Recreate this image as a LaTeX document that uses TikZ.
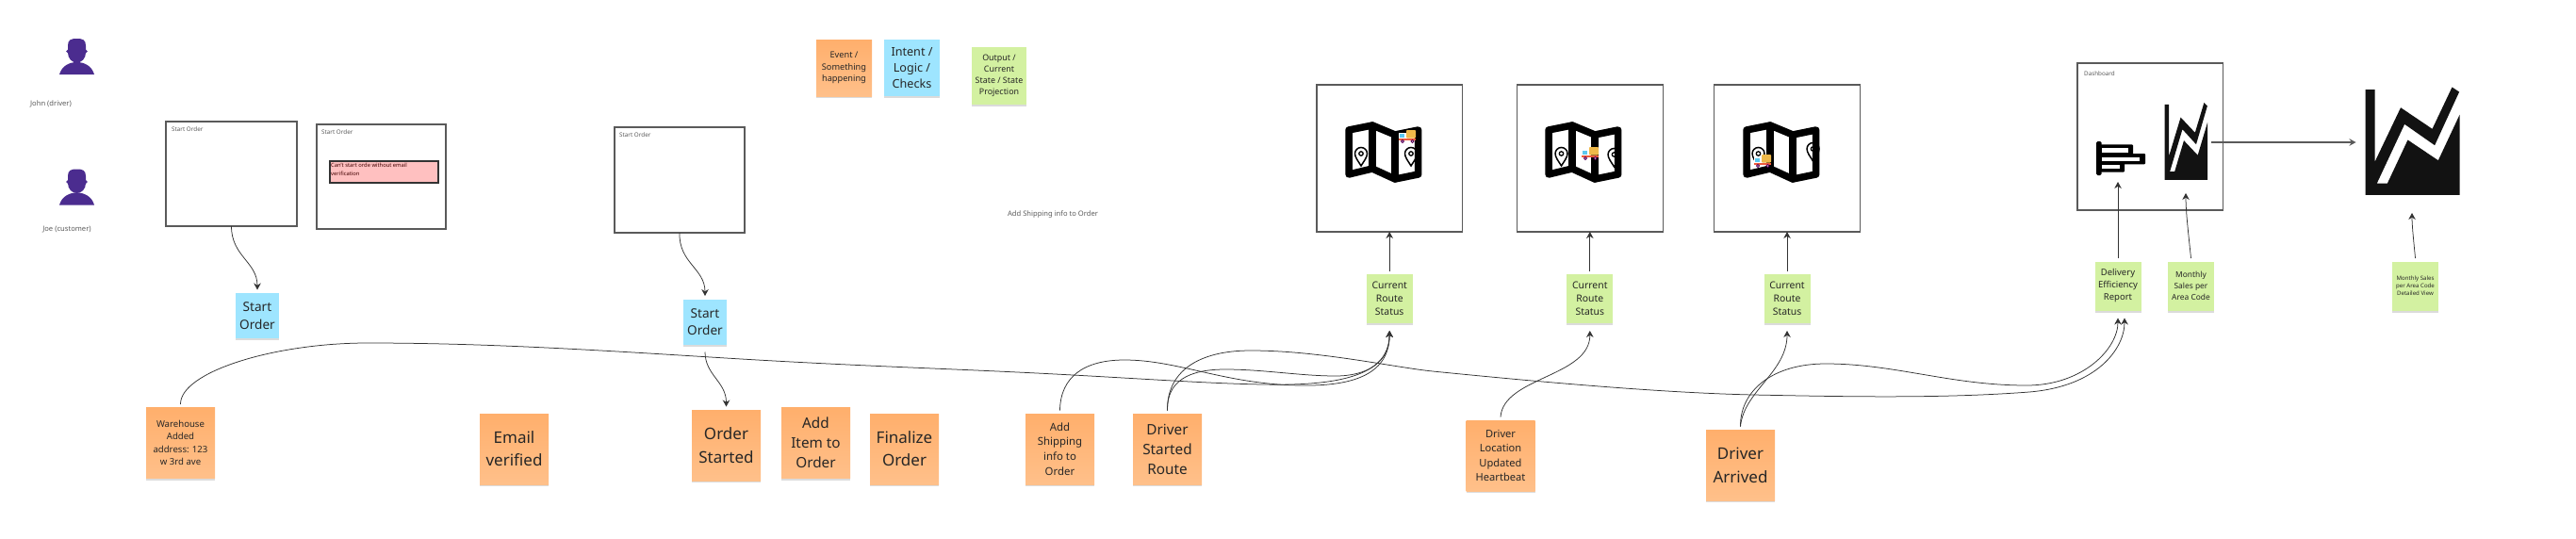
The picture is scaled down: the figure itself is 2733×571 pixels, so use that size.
\documentclass[tikz,border=0pt]{standalone}
\usepackage{fontspec}
\setmainfont{Noto Sans}
\usetikzlibrary{arrows.meta, positioning, shadows}

\definecolor{eventtop}{HTML}{FFAF6C}
\definecolor{eventbot}{HTML}{FFC08A}
\definecolor{intentfill}{HTML}{9EE5FF}
\definecolor{outputfill}{HTML}{D3F1A1}
\definecolor{alertfill}{HTML}{FFC0C0}
\definecolor{personfill}{HTML}{4B2C8F}
\definecolor{framegray}{HTML}{5A5A5A}
\definecolor{flowgray}{HTML}{333333}
\definecolor{notetext}{HTML}{262626}
\definecolor{truckyellow}{HTML}{EFB94A}
\definecolor{truckred}{HTML}{EF5A3C}
\definecolor{truckblue}{HTML}{5CC8F0}

\tikzset{
    notesize/.style n args={2}{minimum width=#1, minimum height=#2},
    textsize/.style n args={2}{font=\fontsize{#1}{#2}\selectfont},
    sticky/.style={rectangle, inner sep=0pt, outer sep=3.5pt, align=center, text=notetext,
        drop shadow={shadow xshift=0pt, shadow yshift=-2pt, opacity=.14, fill=black}},
    eventnote/.style={sticky, notesize={73pt}{75pt}, top color=eventtop, bottom color=eventbot},
    intentnote/.style={sticky, notesize={46pt}{48pt}, fill=intentfill, textsize={13.6}{19}},
    outputnote/.style={sticky, notesize={49pt}{52pt}, fill=outputfill},
    screenbox/.style={rectangle, draw=framegray, line width=1.1pt, fill=white, outer sep=0pt, inner sep=0pt},
    smalltext/.style={text=framegray, textsize={6.3}{8}, inner sep=0pt},
    flow/.style={-{Stealth[length=7pt,width=7.5pt]}, draw=flowgray, line width=.75pt},
    % ==== pictures inside the screens ====
    person/.pic={
        \fill[personfill] (-18.5,38) .. controls (-16,29) and (-8,25) .. (0,25) .. controls (8,25) and (16,29) .. (18.5,38) -- cycle;
        \fill[personfill] (-9.5,7.5) .. controls (-9.5,1) and (-6,0) .. (0,0) .. controls (6,0) and (9.5,1) .. (9.5,7.5) -- (9.5,15) .. controls (9.5,21) and (5,25.5) .. (0,25.5) .. controls (-5,25.5) and (-9.5,21) .. (-9.5,15) -- cycle;
        \fill[personfill] (-9.6,13.5) circle (1.8);
        \fill[personfill] (9.6,13.5) circle (1.8);
    },
    mappin/.pic={
        \draw[black, fill=white, line width=1.5pt] (0,11) .. controls (-3,6) and (-6.5,2) .. (-6.5,-2) arc[start angle=180, end angle=360, radius=6.5] .. controls (6.5,2) and (3,6) .. (0,11) -- cycle;
        \draw[black, line width=1.3pt] (0,-2) circle (2.2);
    },
    mapframe/.pic={
        \draw[black, line width=7.5pt, line join=round] (4,9) -- (29,4) -- (53,14) -- (77.7,9) -- (77.7,56) -- (53,61) -- (29,50) -- (4,56) -- cycle;
        \draw[black, line width=7.5pt, line cap=round] (29,4) -- (29,50);
        \draw[black, line width=7.5pt, line cap=round] (53,14) -- (53,61);
    },
    truck/.pic={
        \fill[truckyellow, rounded corners=.8pt] (-1,-7) rectangle (9,1.5);
        \fill[white] (-9,-4) rectangle (-1,2);
        \fill[truckblue] (-8.5,-3.5) rectangle (-3,.5);
        \fill[truckred] (-9,1.5) rectangle (9,4);
        \draw[violet!70!black, fill=white, line width=.8pt] (-5,5) circle (1.5);
        \draw[violet!70!black, fill=white, line width=.8pt] (5.5,5) circle (1.5);
    },
    barsicon/.pic={
        \fill[black, rounded corners=1.5pt] (0,0) rectangle (5.6,36);
        \fill[black, rounded corners=1pt] (3,3.3) rectangle (39,16);
        \fill[black, rounded corners=1pt] (3,13) rectangle (52,24.3);
        \fill[black, rounded corners=1pt] (3,23) rectangle (30,32.7);
        \fill[white] (5.6,7.3) rectangle (33.5,12.3);
        \fill[white] (5.6,16.7) rectangle (45.9,21);
        \fill[white] (5.6,25) rectangle (25,29.3);
    },
    charticon/.pic={
        \fill[black!93] (0,2.7) -- (10,2.7) -- (10,79.3) -- (37.5,21.7) -- (71,44.3) -- (92,0) -- (99.6,5) -- (73.6,61.7) -- (41.6,39.3) -- (12.3,102) -- (23.4,102) -- (45,56) -- (77.3,77.7) -- (100,29.3) -- (100,114.3) -- (0,114.3) -- cycle;
    }
}

\begin{document}
\begin{tikzpicture}[x=1pt, y=-1pt]
\useasboundingbox (0,0) rectangle (2733,571);

% ==== People ====
\pic at (81.5,41) {person};
\pic at (81.5,179.5) {person};
\node[smalltext, textsize={7.6}{9}] (johnlabel) at (54,110) {John (driver)};
\node[smalltext, textsize={7.6}{9}] (joelabel) at (71,244) {Joe (customer)};

% ==== Legend ====
\node[eventnote, notesize={59pt}{60pt}, textsize={9.2}{12.6}] (legendevent) at (895.5,72) {Event /\\Something\\happening};
\node[intentnote, notesize={59pt}{60pt}, textsize={12.6}{16.9}] (legendintent) at (967.5,72) {Intent /\\Logic /\\Checks};
\node[outputnote, notesize={58pt}{61pt}, textsize={8.9}{11.8}] (legendoutput) at (1060,80.5) {Output /\\Current\\State / State\\Projection};
\node[smalltext, textsize={7.6}{9}] (shippinglabel) at (1117,227) {Add Shipping info to Order};

% ==== Start order screens ====
\node[screenbox, minimum width=139pt, minimum height=111pt, label={[smalltext, anchor=north west, xshift=6pt, yshift=-6pt]north west:Start Order}] (startbox) at (245.5,184.5) {};
\node[screenbox, minimum width=137pt, minimum height=111pt, label={[smalltext, anchor=north west, xshift=5pt, yshift=-6pt]north west:Start Order}] (errorbox) at (404.5,187.5) {};
\node[rectangle, draw=flowgray, line width=1.1pt, fill=alertfill, outer sep=0pt, inner sep=0pt, minimum width=115pt, minimum height=23pt,
    label={[anchor=north west, inner sep=0pt, xshift=1pt, yshift=-2pt, align=left, text=red!25!black, textsize={5.8}{9}]north west:Can't start orde without email\\verification}] (alertbox) at (407.5,182.5) {};
\node[screenbox, minimum width=138pt, minimum height=112pt, label={[smalltext, anchor=north west, xshift=5pt, yshift=-6pt]north west:Start Order}] (startboxb) at (721,191) {};

\node[intentnote] (startnote) at (273,335) {Start\\Order};
\node[intentnote, textsize={13.6}{18}] (startnoteb) at (748,341.5) {Start\\Order};

% ==== Events ====
\node[eventnote, textsize={9.6}{13.3}] (warehouse) at (191.5,470) {Warehouse\\Added\\address: 123\\w 3rd ave};
\node[eventnote, textsize={17}{24}] (email) at (545.5,476.5) {Email\\verified};
\node[eventnote, textsize={17}{25}] (orderstarted) at (770.5,472.5) {Order\\Started};
\node[eventnote, textsize={15.3}{21}] (additem) at (865.5,470) {Add\\Item to\\Order};
\node[eventnote, textsize={17}{24}] (finalize) at (959.5,476.5) {Finalize\\Order};
\node[eventnote, textsize={11.4}{15.7}] (addshipping) at (1124.5,476.5) {Add\\Shipping\\info to\\Order};
\node[eventnote, textsize={15.3}{21}] (driverstarted) at (1238.5,476.5) {Driver\\Started\\Route};
\node[eventnote, textsize={11.1}{15.5}] (driverlocation) at (1592,483.5) {Driver\\Location\\Updated\\Heartbeat};
\node[eventnote, textsize={17}{25}] (driverarrived) at (1846.5,493.5) {Driver\\Arrived};

% ==== Route screens ====
\node[screenbox, minimum width=154.5pt, minimum height=156pt] (mapa) at (1474.2,168) {};
\node[screenbox, minimum width=154.5pt, minimum height=156pt] (mapb) at (1686.8,168) {};
\node[screenbox, minimum width=154.5pt, minimum height=156pt] (mapc) at (1896,168) {};

\pic at (1444,165) {mappin};
\pic at (1497,165) {mappin};
\pic at (1427,129) {mapframe};
\pic at (1493,145) {truck};

\pic at (1656.5,165) {mappin};
\pic at (1712.5,166) {mappin};
\pic at (1639,129) {mapframe};
\pic at (1687,163) {truck};

\pic at (1865.5,165) {mappin};
\pic at (1923.5,160) {mappin};
\pic at (1849,129) {mapframe};
\pic at (1870,171) {truck};

\node[outputnote, textsize={10.4}{14}, below=41.5pt of mapa] (statusa) {Current\\Route\\Status};
\node[outputnote, textsize={10.4}{14}, below=41.5pt of mapb] (statusb) {Current\\Route\\Status};
\node[outputnote, textsize={10.4}{14}, below=41.5pt of mapc] (statusc) {Current\\Route\\Status};

% ==== Dashboard ====
\node[screenbox, minimum width=154.5pt, minimum height=156pt, label={[smalltext, anchor=north west, xshift=7pt, yshift=-9pt]north west:Dashboard}] (dashboard) at (2281.2,145) {};
\pic at (2224,150) {barsicon};
\pic[xscale=.455, yscale=.717] at (2296.5,109) {charticon};
\pic at (2509.5,92.5) {charticon};

\node[outputnote, textsize={9.5}{13}] (delivery) at (2247,303.5) {Delivery\\Efficiency\\Report};
\node[outputnote, textsize={8.4}{11.7}] (monthly) at (2324.5,303.5) {Monthly\\Sales per\\Area Code};
\node[outputnote, textsize={6.1}{8}] (detailed) at (2562.5,303.5) {Monthly Sales\\per Area Code\\Detailed View};

% free ends inside the dashboard pictures
\coordinate (barsin) at (2247,193);
\coordinate (chartin) at (2319,205);
\coordinate (bigin) at (2559,226);
\coordinate (dashout) at (2346,151);
\coordinate (dashin) at (2499.5,151);

% ==== Arrows (screens) ====
\draw[flow] (startbox.south) .. controls (245.5,272) and (273,278) .. (startnote.north);
\draw[flow] (startboxb.south) .. controls (720,279) and (748,285) .. (startnoteb.north);
\draw[flow] ([yshift=-4.5pt]startnoteb.south) .. controls (748,398) and (770.5,405) .. (orderstarted.north);
\draw[flow] (statusa.north) -- (mapa.south);
\draw[flow] (statusb.north) -- (mapb.south);
\draw[flow] (statusc.north) -- (mapc.south);
\draw[flow] (delivery.north) -- (barsin);
\draw[flow] (monthly.north) .. controls (2322,250) and (2319,225) .. (chartin);
\draw[flow] (detailed.north) .. controls (2561,258) and (2559,240) .. (bigin);
\draw[flow, draw=framegray, line width=1.2pt] (dashout) -- (dashin);

% ==== Arrows (events to projections) ====
\draw[flow] (warehouse.north) .. controls (191,395) and (290,364) .. (390,364) .. controls (520,364) and (640,372) .. (770,380) .. controls (900,388) and (1000,391) .. (1100,396) .. controls (1200,401) and (1280,407) .. (1340,408) .. controls (1430,410) and (1474,395) .. ([yshift=-4.5pt]statusa.south);
\draw[flow] (addshipping.north) .. controls (1125,400) and (1150,382) .. (1193,382) .. controls (1250,382) and (1300,408) .. (1380,409) .. controls (1440,410) and (1474,395) .. ([yshift=-4.5pt]statusa.south);
\draw[flow] (driverstarted.north) .. controls (1238,405) and (1260,392) .. (1300,392) .. controls (1340,392) and (1380,399) .. (1417,399) .. controls (1450,399) and (1474,385) .. ([yshift=-4.5pt]statusa.south);
\draw[flow] (driverstarted.north) .. controls (1238,395) and (1270,372) .. (1327,372) .. controls (1400,372) and (1480,390) .. (1520,394) .. controls (1650,407) and (1770,417) .. (1860,419) .. controls (1960,421) and (2060,423) .. (2153,416) .. controls (2225,410) and (2254,370) .. ([xshift=7pt,yshift=-4.5pt]delivery.south);
\draw[flow] (driverlocation.north) .. controls (1595,400) and (1687,400) .. ([yshift=-4.5pt]statusb.south);
\draw[flow] (driverarrived.north) .. controls (1850,415) and (1896,395) .. ([yshift=-4.5pt]statusc.south);
\draw[flow] (driverarrived.north) .. controls (1846,415) and (1880,386) .. (1937,386) .. controls (2010,386) and (2070,409) .. (2150,409) .. controls (2210,409) and (2247,370) .. ([yshift=-4.5pt]delivery.south);

\end{tikzpicture}
\end{document}
